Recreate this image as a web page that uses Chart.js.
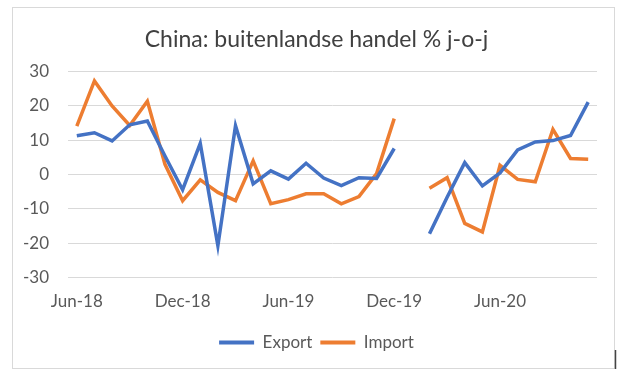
<!DOCTYPE html>
<html>
<head>
<meta charset="utf-8">
<script src="https://cdn.jsdelivr.net/npm/chart.js@4"></script>
<style>
  body { margin: 0; background: #fff; }
</style>
</head>
<body>
<canvas id="tradeChart" width="625" height="377"></canvas>
<script>
const months = [
  'Jun-18', 'Jul-18', 'Aug-18', 'Sep-18', 'Oct-18', 'Nov-18', 'Dec-18',
  'Jan-19', 'Feb-19', 'Mar-19', 'Apr-19', 'May-19', 'Jun-19', 'Jul-19',
  'Aug-19', 'Sep-19', 'Oct-19', 'Nov-19', 'Dec-19', 'Jan-20', 'Feb-20',
  'Mar-20', 'Apr-20', 'May-20', 'Jun-20', 'Jul-20', 'Aug-20', 'Sep-20',
  'Oct-20', 'Nov-20'
];
const exportData = [
  11.3, 12.2, 9.8, 14.5, 15.6, 5.4, -4.4, 9.1, -20.7, 14.2, -2.7, 1.1,
  -1.3, 3.3, -1.0, -3.2, -0.9, -1.1, 7.6, null, -17.2, -6.6, 3.5, -3.3,
  0.5, 7.2, 9.5, 9.9, 11.4, 21.1
];
const importData = [
  14.1, 27.3, 20.0, 14.3, 21.4, 3.0, -7.6, -1.5, -5.2, -7.6, 4.0, -8.5,
  -7.3, -5.6, -5.6, -8.5, -6.4, 0.3, 16.3, null, -4.0, -0.9, -14.2, -16.7,
  2.7, -1.4, -2.1, 13.2, 4.7, 4.5
];
const yTicks = [-30, -20, -10, 0, 10, 20, 30];

const FONT = 'Lato, "Open Sans", sans-serif';
const TXT = '#595959';

// white background + thin frame round the whole chart
const framePlugin = {
  id: 'frame',
  beforeDraw(chart) {
    const ctx = chart.ctx;
    ctx.save();
    ctx.fillStyle = '#fff';
    ctx.fillRect(0, 0, chart.width, chart.height);
    ctx.strokeStyle = '#d9d9d9';
    ctx.lineWidth = 1;
    ctx.strokeRect(12.5, 7.5, 602, 361);
    ctx.strokeStyle = '#444';
    ctx.lineWidth = 1.5;
    ctx.beginPath();
    ctx.moveTo(615.5, 350);
    ctx.lineTo(615.5, 369);
    ctx.stroke();
    ctx.restore();
  }
};

new Chart(document.getElementById('tradeChart'), {
  type: 'line',
  data: {
    labels: months,
    datasets: [
      {
        label: 'Export',
        data: exportData,
        borderColor: '#4472C4',
        backgroundColor: '#4472C4',
        borderWidth: 3.5,
        pointRadius: 0,
        tension: 0,
        spanGaps: false,
      },
      {
        label: 'Import',
        data: importData,
        borderColor: '#ED7D31',
        backgroundColor: '#ED7D31',
        borderWidth: 3.5,
        pointRadius: 0,
        tension: 0,
        spanGaps: false,
      },
    ],
  },
  options: {
    responsive: false,
    animation: false,
    layout: { padding: { left: 20, right: 12, top: 0, bottom: 16 } },
    scales: {
      x: {
        type: 'category',
        offset: true,
        grid: { display: false, drawTicks: false },
        border: { display: false },
        ticks: {
          autoSkip: false,
          maxRotation: 0,
          padding: 14,
          color: TXT,
          font: { family: FONT, size: 17 },
          callback: (val, i) => (i % 6 === 0 ? months[i] : ''),
        },
      },
      y: {
        min: -30,
        max: 30,
        afterBuildTicks: (scale) => {
          scale.ticks = yTicks.map((v) => ({ value: v }));
        },
        afterFit: (scale) => {
          scale.width = 48;
        },
        grid: { color: '#d9d9d9', lineWidth: 1, drawTicks: false },
        border: { display: false },
        ticks: {
          padding: 19,
          color: TXT,
          font: { family: FONT, size: 17 },
        },
      },
      // empty right axis, only keeps the plot off the right frame
      spacer: {
        position: 'right',
        min: -30,
        max: 30,
        afterFit: (scale) => {
          scale.width = 16;
        },
        grid: { display: false, drawTicks: false },
        border: { display: false },
        ticks: { display: false },
      },
    },
    plugins: {
      title: {
        display: true,
        text: 'China: buitenlandse handel % j-o-j',
        color: '#404040',
        font: { family: FONT, size: 23, weight: 'normal' },
        padding: { top: 26, bottom: 18 },
      },
      legend: {
        position: 'bottom',
        labels: {
          boxWidth: 35,
          boxHeight: 4,
          padding: 8,
          color: TXT,
          font: { family: FONT, size: 17 },
          generateLabels: (chart) =>
            Chart.defaults.plugins.legend.labels.generateLabels(chart).map((l) => {
              l.lineWidth = 0;
              return l;
            }),
        },
      },
      tooltip: { enabled: false },
    },
  },
  plugins: [framePlugin],
});
</script>
</body>
</html>
